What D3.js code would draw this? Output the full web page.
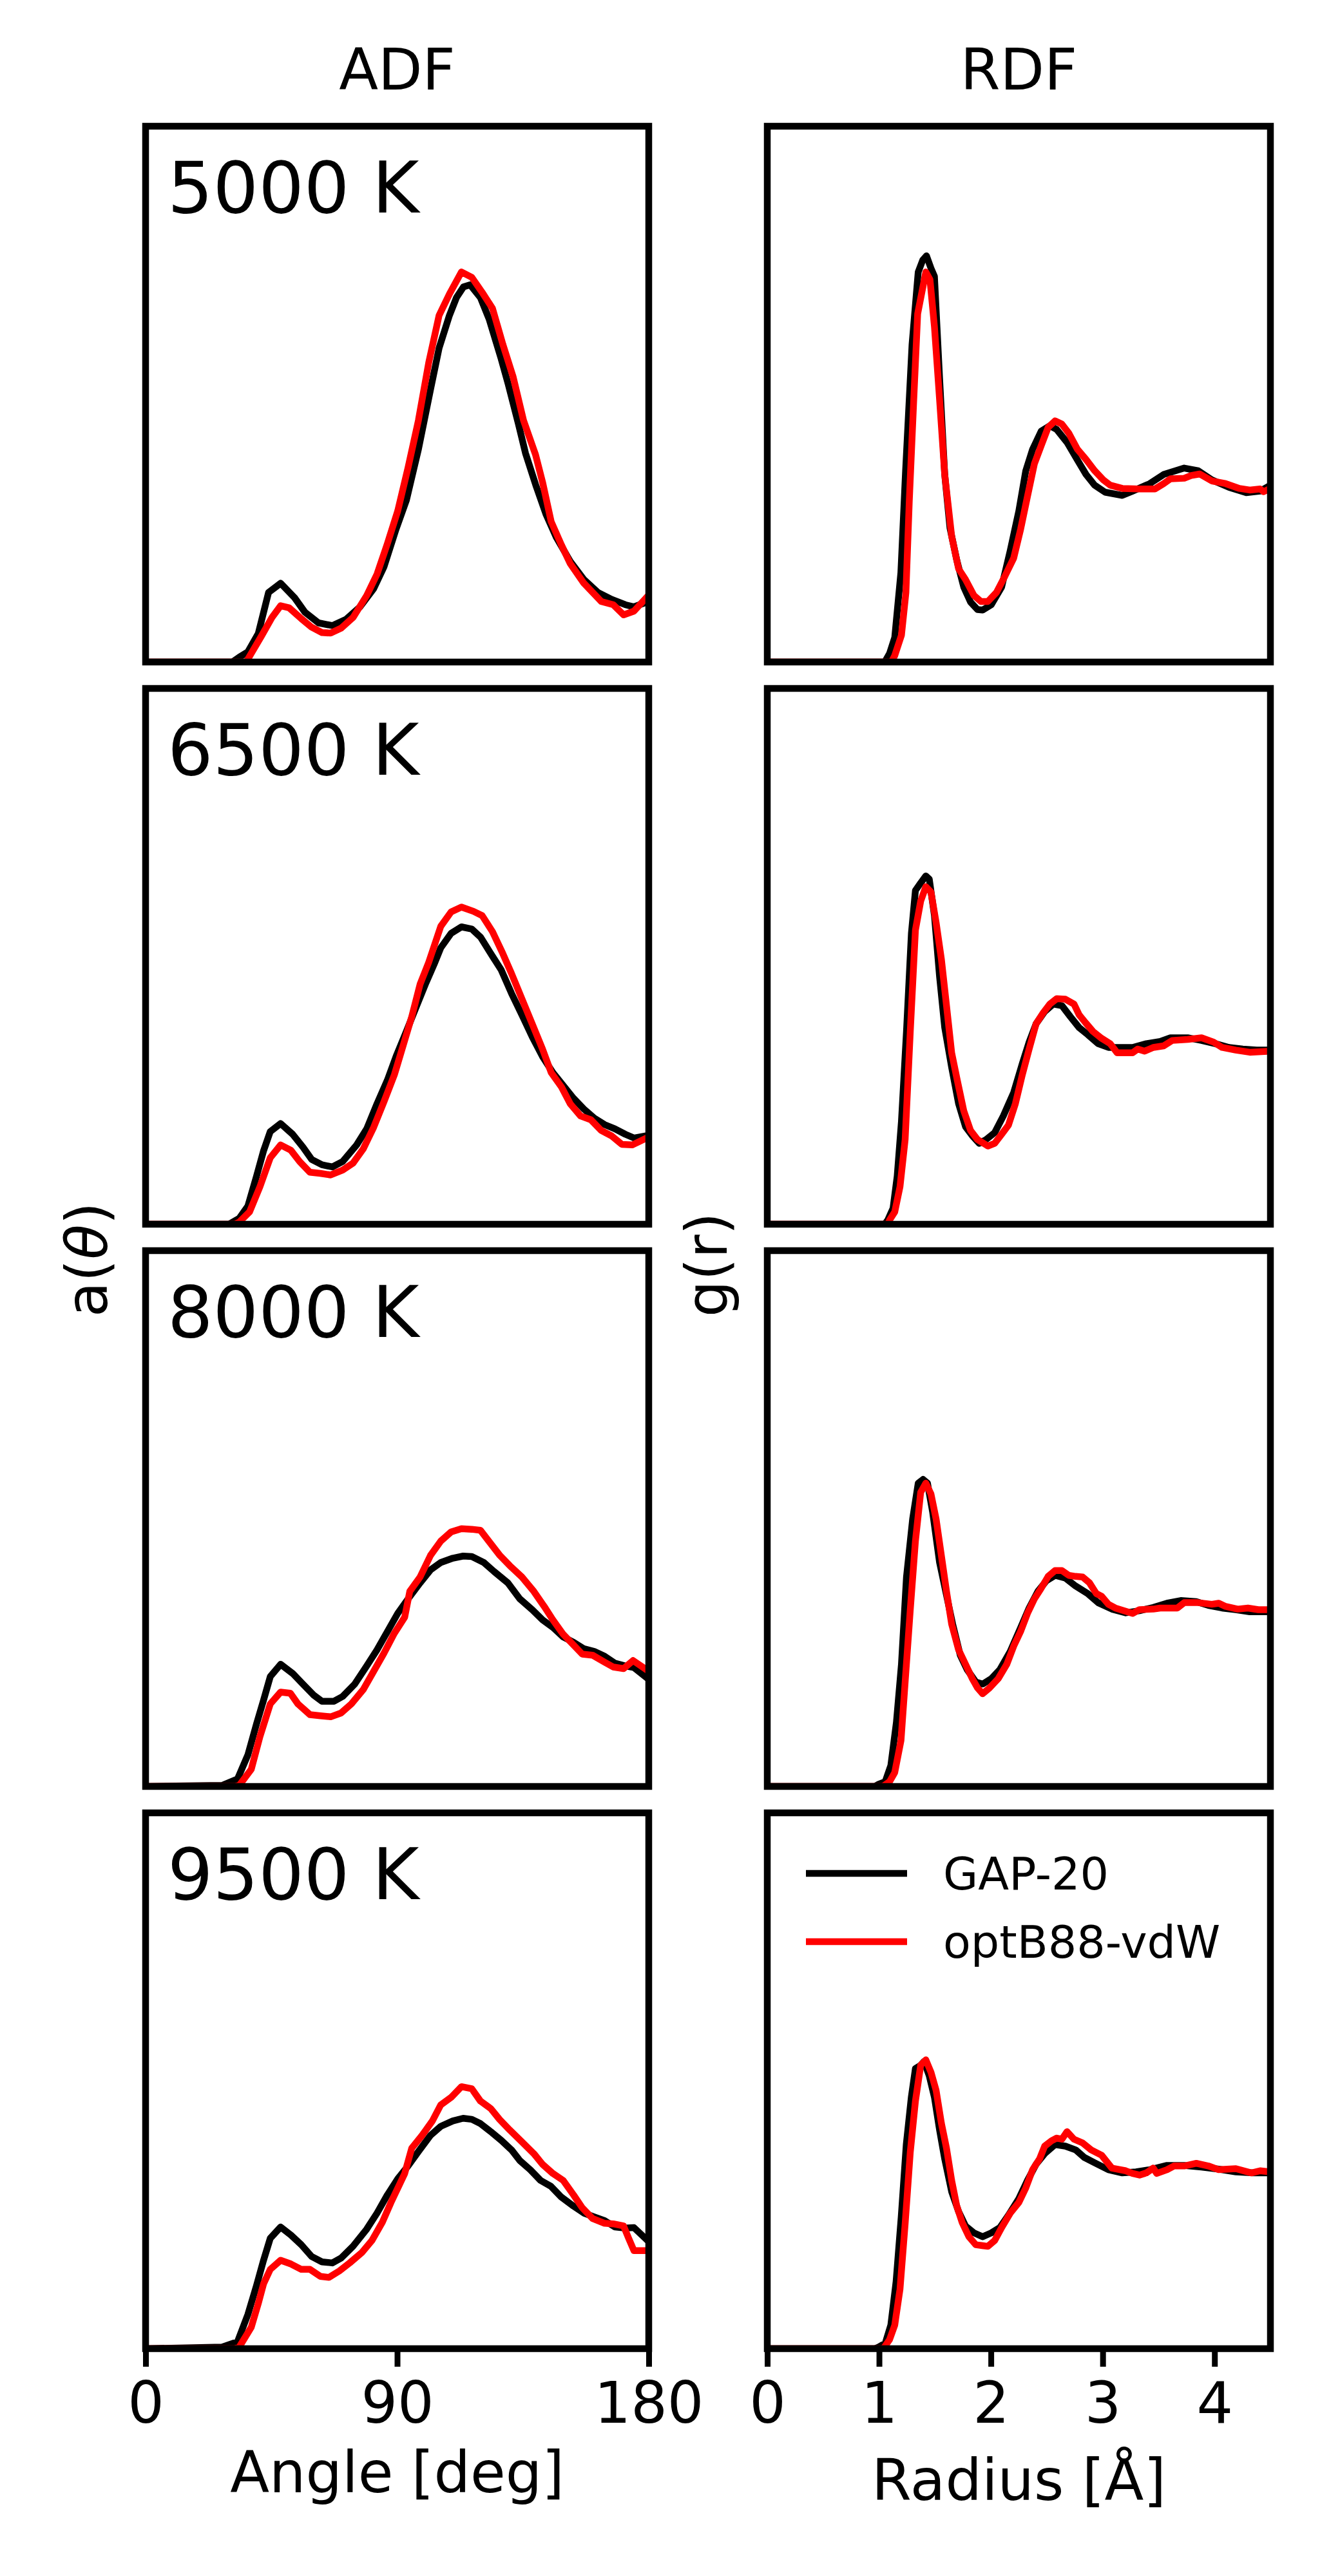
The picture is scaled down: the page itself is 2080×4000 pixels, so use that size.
<!DOCTYPE html>
<html>
<head>
<meta charset="utf-8">
<script src="https://cdn.jsdelivr.net/npm/d3@7"></script>
<style>
  body { margin: 0; background: #fff; }
  text { font-family: "DejaVu Sans", sans-serif; fill: #000; }
</style>
</head>
<body>
<div id="root"></div>
<script>
// labels and ticks
const temps = ["5000 K", "6500 K", "8000 K", "9500 K"]
const colTitles = ["ADF", "RDF"]
const adfTicks = [0, 90, 180]
const rdfTicks = [0, 1, 2, 3, 4]
const seriesNames = ["GAP-20", "optB88-vdW"]

// ADF curves, [angle (deg), a(theta) in panel units]
const adfGap5000 = [[0,0],[31,0],[33.5,0.009],[36.6,0.019],[40.3,0.053],[44,0.13],[48.3,0.147],[53.3,0.12],[57,0.093],[61.9,0.073],[66.8,0.068],[71.8,0.08],[76.7,0.103],[81.6,0.137],[85.3,0.178],[89.6,0.248],[93.3,0.302],[97.6,0.397],[101.9,0.508],[105,0.586],[108.7,0.647],[111.2,0.68],[113.7,0.7],[116.1,0.704],[119.8,0.68],[122.9,0.64],[127.2,0.566],[129.7,0.519],[133.4,0.444],[135.9,0.39],[139.6,0.33],[143.3,0.275],[147,0.232],[151.9,0.188],[156.8,0.154],[161.8,0.13],[166.7,0.117],[171.6,0.107],[174.7,0.103],[180,0.113]]
const adfOpt5000 = [[0,0],[36,0],[37.8,0.016],[41.5,0.049],[45.2,0.083],[48.3,0.105],[51.4,0.101],[55.7,0.081],[59.4,0.065],[63.1,0.055],[66.2,0.054],[69.9,0.063],[74.2,0.083],[79.1,0.124],[82.8,0.164],[86.5,0.221],[90.2,0.282],[93.9,0.363],[97.6,0.451],[101.3,0.559],[105,0.647],[108.7,0.687],[113,0.728],[116.7,0.718],[120.4,0.69],[124.1,0.66],[127.8,0.593],[131.5,0.532],[135.2,0.451],[139.5,0.387],[142,0.336],[145.1,0.262],[148.8,0.218],[151.9,0.184],[156.8,0.147],[163,0.113],[167.3,0.107],[171,0.088],[174.7,0.095],[180,0.125]]
const adfGap6500 = [[0,0],[29.8,0],[33.5,0.011],[36.6,0.034],[39.7,0.09],[42.2,0.137],[44.6,0.173],[48.3,0.188],[52.6,0.168],[56.3,0.144],[59.4,0.121],[63.1,0.111],[66.8,0.107],[70.5,0.117],[75.5,0.148],[79.1,0.178],[82.8,0.225],[86.5,0.269],[89.6,0.313],[93.3,0.36],[97,0.408],[100.1,0.448],[103.2,0.485],[105.6,0.516],[109.3,0.543],[113,0.555],[116.7,0.551],[119.8,0.536],[123.5,0.505],[127.2,0.475],[130.9,0.431],[134.6,0.391],[138.3,0.35],[142,0.313],[145.7,0.283],[149.4,0.259],[153.1,0.235],[156.8,0.215],[160.5,0.198],[164.2,0.186],[167.9,0.178],[171.6,0.168],[174.7,0.161],[180,0.166]]
const adfOpt6500 = [[0,0],[32,0],[33.5,0.004],[37.2,0.023],[40.9,0.07],[44.6,0.124],[48.3,0.148],[52,0.138],[55.1,0.117],[58.8,0.097],[62.5,0.095],[66.2,0.092],[70.5,0.101],[74.2,0.114],[77.9,0.141],[81.6,0.181],[85.3,0.229],[89,0.279],[92.1,0.333],[95.2,0.387],[98.2,0.448],[101.3,0.489],[105.6,0.556],[109.3,0.583],[113,0.592],[117.3,0.584],[120.4,0.576],[124.1,0.546],[127.8,0.505],[130.9,0.468],[134.6,0.421],[138.3,0.374],[142,0.327],[145.1,0.283],[148.8,0.256],[151.9,0.225],[155.6,0.202],[159.3,0.195],[163,0.175],[166.7,0.165],[170.4,0.149],[174.1,0.148],[180,0.163]]
const adfGap8000 = [[0,0],[27.4,0.002],[32.9,0.014],[36.6,0.059],[39.7,0.117],[42.2,0.161],[44.6,0.205],[48.3,0.228],[52.6,0.211],[56.3,0.191],[60,0.171],[63.1,0.159],[67.4,0.159],[70.5,0.168],[74.8,0.191],[79.1,0.225],[82.8,0.255],[86.5,0.289],[90.2,0.323],[93.9,0.35],[98.2,0.38],[101.9,0.404],[105.6,0.418],[109.9,0.426],[113.6,0.43],[116.7,0.429],[121,0.418],[124.7,0.401],[129.6,0.38],[133.9,0.35],[138.3,0.33],[142,0.311],[145.7,0.297],[149.4,0.279],[153.1,0.269],[156.8,0.257],[160.5,0.252],[164.2,0.243],[167.9,0.23],[171.6,0.225],[174.7,0.222],[180,0.2]]
const adfOpt8000 = [[0,0],[32,0],[33.5,0.002],[37.8,0.032],[40.9,0.093],[44.6,0.154],[48.3,0.176],[51.8,0.174],[54.5,0.154],[58.8,0.134],[62.5,0.132],[66.2,0.13],[69.9,0.137],[73.6,0.154],[77.9,0.181],[81.6,0.215],[85.3,0.249],[89,0.286],[92.7,0.316],[94.5,0.364],[98.2,0.391],[101.9,0.431],[105.6,0.458],[109.3,0.475],[113,0.481],[116.7,0.48],[119.8,0.478],[122.9,0.457],[126.6,0.432],[130.3,0.412],[134.6,0.391],[138.9,0.364],[142.6,0.336],[145.7,0.311],[149.4,0.284],[153.1,0.264],[156.2,0.247],[159.9,0.245],[164.2,0.232],[167.3,0.223],[171,0.22],[174.4,0.235],[180,0.215]]
const adfGap9500 = [[0,0],[27.4,0.003],[32.9,0.013],[36.6,0.064],[39.7,0.118],[42.2,0.165],[44.6,0.206],[48.3,0.227],[52,0.212],[55.7,0.194],[59.4,0.172],[63.1,0.162],[66.8,0.16],[69.9,0.169],[74.2,0.191],[79.1,0.223],[82.8,0.253],[86.5,0.287],[90.2,0.317],[93.9,0.341],[97.6,0.368],[101.9,0.398],[105.6,0.415],[109.9,0.425],[113.6,0.43],[116.7,0.428],[119.8,0.42],[123.5,0.405],[127.2,0.389],[130.9,0.371],[133.9,0.351],[137.6,0.334],[141.3,0.314],[145,0.303],[148.7,0.283],[153.1,0.266],[156.8,0.253],[160.5,0.246],[164.2,0.239],[167.9,0.227],[171.6,0.225],[174.7,0.226],[180,0.2]]
const adfOpt9500 = [[0,0],[32,0],[33.5,0.003],[37.8,0.04],[40.3,0.084],[42.2,0.121],[44.6,0.148],[48.3,0.165],[52,0.158],[55.7,0.148],[58.8,0.148],[62.5,0.135],[65.6,0.133],[69.3,0.145],[73,0.16],[77.3,0.179],[81,0.202],[84.7,0.236],[87.8,0.273],[90.9,0.307],[92.7,0.327],[95.2,0.374],[98.9,0.398],[102.6,0.425],[105.6,0.455],[109.3,0.469],[113,0.489],[116.7,0.485],[119.8,0.462],[123.5,0.448],[126.6,0.428],[130.3,0.408],[134.6,0.386],[138.9,0.364],[142,0.344],[145.7,0.327],[149.4,0.314],[153.1,0.287],[156.2,0.263],[159.9,0.243],[164.2,0.234],[167.3,0.233],[171,0.229],[172.8,0.206],[174.7,0.183],[180,0.183]]

// RDF curves, [radius (A), g(r) in panel units]
const rdfGap5000 = [[0,0],[1.05,0],[1.094,0.016],[1.14,0.046],[1.195,0.167],[1.237,0.357],[1.295,0.593],[1.35,0.728],[1.39,0.75],[1.424,0.758],[1.464,0.735],[1.495,0.72],[1.541,0.53],[1.587,0.35],[1.634,0.25],[1.695,0.19],[1.757,0.14],[1.818,0.112],[1.88,0.098],[1.926,0.097],[2.003,0.107],[2.096,0.14],[2.173,0.208],[2.25,0.282],[2.312,0.357],[2.373,0.397],[2.45,0.431],[2.527,0.441],[2.589,0.434],[2.681,0.41],[2.774,0.377],[2.851,0.35],[2.928,0.33],[3.021,0.317],[3.175,0.311],[3.267,0.319],[3.421,0.333],[3.545,0.35],[3.729,0.362],[3.853,0.357],[3.976,0.34],[4.13,0.326],[4.284,0.316],[4.408,0.319],[4.5,0.33]]
const rdfOpt5000 = [[0,0],[1.11,0],[1.14,0.012],[1.2,0.05],[1.24,0.13],[1.27,0.3],[1.31,0.49],[1.345,0.65],[1.418,0.728],[1.455,0.714],[1.495,0.626],[1.541,0.49],[1.587,0.35],[1.649,0.235],[1.711,0.174],[1.773,0.154],[1.849,0.124],[1.911,0.113],[1.973,0.113],[2.05,0.13],[2.127,0.161],[2.204,0.194],[2.266,0.248],[2.327,0.309],[2.389,0.37],[2.45,0.404],[2.512,0.438],[2.574,0.45],[2.635,0.444],[2.697,0.427],[2.774,0.397],[2.851,0.378],[2.928,0.357],[3.005,0.34],[3.067,0.33],[3.175,0.324],[3.329,0.323],[3.467,0.323],[3.545,0.333],[3.606,0.342],[3.729,0.343],[3.791,0.348],[3.868,0.351],[3.976,0.338],[4.099,0.333],[4.222,0.324],[4.315,0.321],[4.408,0.323],[4.438,0.318],[4.5,0.324]]
const rdfGap6500 = [[0,0],[1.05,0],[1.078,0.008],[1.125,0.03],[1.162,0.09],[1.2,0.192],[1.245,0.36],[1.289,0.543],[1.325,0.623],[1.372,0.637],[1.418,0.65],[1.449,0.644],[1.495,0.576],[1.541,0.462],[1.587,0.367],[1.649,0.293],[1.711,0.225],[1.773,0.182],[1.834,0.165],[1.896,0.151],[1.957,0.158],[2.034,0.171],[2.111,0.202],[2.204,0.246],[2.281,0.3],[2.342,0.34],[2.404,0.374],[2.481,0.397],[2.558,0.411],[2.635,0.408],[2.712,0.387],[2.789,0.367],[2.866,0.354],[2.959,0.337],[3.051,0.33],[3.144,0.33],[3.267,0.33],[3.39,0.337],[3.514,0.341],[3.606,0.348],[3.76,0.348],[3.884,0.343],[4.007,0.337],[4.13,0.33],[4.253,0.327],[4.377,0.325],[4.5,0.325]]
const rdfOpt6500 = [[0,0],[1.08,0],[1.094,0.008],[1.14,0.023],[1.187,0.07],[1.233,0.158],[1.279,0.36],[1.325,0.549],[1.372,0.603],[1.418,0.63],[1.464,0.62],[1.51,0.563],[1.557,0.495],[1.603,0.408],[1.649,0.32],[1.695,0.273],[1.757,0.212],[1.818,0.175],[1.88,0.158],[1.973,0.146],[2.034,0.151],[2.096,0.168],[2.157,0.185],[2.219,0.225],[2.281,0.279],[2.342,0.327],[2.404,0.374],[2.466,0.394],[2.527,0.411],[2.589,0.421],[2.666,0.42],[2.743,0.411],[2.789,0.391],[2.851,0.375],[2.912,0.36],[2.99,0.347],[3.067,0.337],[3.129,0.32],[3.267,0.32],[3.313,0.327],[3.375,0.323],[3.452,0.33],[3.545,0.333],[3.622,0.343],[3.76,0.345],[3.884,0.348],[3.991,0.34],[4.068,0.33],[4.191,0.325],[4.315,0.321],[4.5,0.323]]
const rdfGap8000 = [[0,0],[0.96,0],[0.995,0.004],[1.055,0.009],[1.105,0.039],[1.155,0.12],[1.2,0.228],[1.245,0.391],[1.3,0.499],[1.35,0.566],[1.393,0.573],[1.433,0.566],[1.479,0.512],[1.541,0.418],[1.603,0.357],[1.658,0.303],[1.726,0.245],[1.788,0.218],[1.865,0.195],[1.926,0.191],[2.003,0.201],[2.08,0.218],[2.173,0.252],[2.265,0.296],[2.342,0.333],[2.42,0.364],[2.497,0.384],[2.574,0.394],[2.666,0.389],[2.758,0.374],[2.866,0.36],[2.959,0.343],[3.082,0.331],[3.206,0.324],[3.329,0.328],[3.452,0.334],[3.575,0.342],[3.698,0.347],[3.837,0.345],[3.945,0.338],[4.068,0.333],[4.191,0.33],[4.315,0.326],[4.5,0.326]]
const rdfOpt8000 = [[0,0],[1.03,0],[1.048,0.002],[1.094,0.009],[1.14,0.026],[1.196,0.086],[1.233,0.195],[1.279,0.33],[1.325,0.458],[1.372,0.549],[1.418,0.566],[1.464,0.546],[1.51,0.499],[1.557,0.431],[1.603,0.364],[1.649,0.303],[1.711,0.255],[1.773,0.228],[1.834,0.201],[1.88,0.184],[1.926,0.173],[1.988,0.184],[2.065,0.201],[2.142,0.228],[2.204,0.262],[2.265,0.289],[2.327,0.323],[2.389,0.35],[2.45,0.37],[2.512,0.392],[2.574,0.403],[2.635,0.403],[2.697,0.394],[2.758,0.392],[2.82,0.391],[2.882,0.38],[2.943,0.36],[2.99,0.355],[3.051,0.34],[3.113,0.333],[3.267,0.323],[3.329,0.33],[3.452,0.331],[3.514,0.333],[3.668,0.333],[3.729,0.343],[3.853,0.343],[3.976,0.34],[4.038,0.342],[4.099,0.336],[4.207,0.331],[4.299,0.333],[4.392,0.33],[4.5,0.33]]
const rdfGap9500 = [[0,0],[0.96,0],[0.995,0.003],[1.055,0.01],[1.105,0.044],[1.152,0.125],[1.198,0.246],[1.243,0.381],[1.288,0.469],[1.325,0.523],[1.372,0.529],[1.402,0.536],[1.449,0.509],[1.495,0.469],[1.541,0.408],[1.587,0.354],[1.649,0.293],[1.711,0.256],[1.773,0.229],[1.849,0.216],[1.926,0.209],[2.003,0.216],[2.08,0.226],[2.157,0.249],[2.25,0.28],[2.327,0.314],[2.404,0.344],[2.481,0.364],[2.574,0.381],[2.666,0.378],[2.758,0.371],[2.835,0.357],[2.928,0.347],[3.051,0.334],[3.175,0.328],[3.298,0.33],[3.421,0.334],[3.575,0.342],[3.729,0.342],[3.884,0.339],[4.038,0.335],[4.191,0.33],[4.346,0.328],[4.5,0.328]]
const rdfOpt9500 = [[0,0],[1.03,0],[1.048,0.003],[1.094,0.017],[1.14,0.044],[1.187,0.111],[1.233,0.233],[1.279,0.367],[1.325,0.462],[1.372,0.529],[1.418,0.539],[1.464,0.516],[1.51,0.482],[1.557,0.421],[1.603,0.374],[1.649,0.314],[1.695,0.266],[1.742,0.236],[1.803,0.209],[1.865,0.194],[1.973,0.191],[2.034,0.202],[2.096,0.226],[2.173,0.253],[2.25,0.273],[2.312,0.3],[2.373,0.334],[2.435,0.354],[2.481,0.378],[2.543,0.388],[2.589,0.393],[2.635,0.391],[2.681,0.405],[2.743,0.391],[2.82,0.384],[2.897,0.371],[2.99,0.361],[3.082,0.337],[3.206,0.332],[3.267,0.327],[3.329,0.324],[3.39,0.328],[3.452,0.337],[3.483,0.327],[3.575,0.334],[3.637,0.341],[3.729,0.341],[3.837,0.346],[3.945,0.341],[4.038,0.334],[4.191,0.336],[4.33,0.328],[4.408,0.332],[4.5,0.33]]

const adfGap = [adfGap5000, adfGap6500, adfGap8000, adfGap9500]
const adfOpt = [adfOpt5000, adfOpt6500, adfOpt8000, adfOpt9500]
const rdfGap = [rdfGap5000, rdfGap6500, rdfGap8000, rdfGap9500]
const rdfOpt = [rdfOpt5000, rdfOpt6500, rdfOpt8000, rdfOpt9500]

// figure layout (pixels)
const W = 2080, H = 4000
const colLeft = [226, 1191]
const axW = 781, axH = 832
const rowTop = [196, 1069, 1942, 2815]
const lw = 10.5
const fontSize = 89

const svg = d3.select("#root").append("svg")
    .attr("width", W).attr("height", H)
    .attr("viewBox", `0 0 ${W} ${H}`)
svg.append("rect").attr("width", W).attr("height", H).attr("fill", "#fff")

function drawPanel(col, row, gap, opt) {
    const x0 = colLeft[col], y0 = rowTop[row]
    const x = d3.scaleLinear().domain(col === 0 ? [0, 180] : [0, 4.5]).range([x0, x0 + axW])
    const y = d3.scaleLinear().domain([0, 1]).range([y0 + axH, y0])
    const id = `clip-${col}-${row}`
    svg.append("clipPath").attr("id", id)
        .append("rect").attr("x", x0).attr("y", y0).attr("width", axW).attr("height", axH)

    const line = d3.line().x(d => x(d[0])).y(d => y(d[1]))
    const g = svg.append("g").attr("clip-path", `url(#${id})`)
    g.append("path").datum(gap).attr("d", line)
        .attr("fill", "none").attr("stroke", "#000").attr("stroke-width", lw)
        .attr("stroke-linejoin", "round")
    g.append("path").datum(opt).attr("d", line)
        .attr("fill", "none").attr("stroke", "#ff0000").attr("stroke-width", lw)
        .attr("stroke-linejoin", "round")

    // ticks only on the bottom row
    if (row === rowTop.length - 1) {
        const axis = d3.axisBottom(x)
            .tickValues(col === 0 ? adfTicks : rdfTicks)
            .tickFormat(d3.format("d"))
            .tickSize(28).tickPadding(24)
        const ax = svg.append("g").attr("transform", `translate(0,${y0 + axH})`).call(axis)
        ax.select(".domain").remove()
        ax.selectAll(".tick line").attr("stroke", "#000").attr("stroke-width", 9)
        ax.selectAll(".tick text").attr("font-size", fontSize)
            .attr("font-family", "DejaVu Sans").attr("fill", "#000")
    }

    // frame on top of the curves
    svg.append("rect").attr("x", x0).attr("y", y0).attr("width", axW).attr("height", axH)
        .attr("fill", "none").attr("stroke", "#000").attr("stroke-width", lw)

    if (col === 0) {
        svg.append("text").attr("x", x0 + 34).attr("y", y0 + 134)
            .attr("font-size", 111).text(temps[row])
    }
}

for (let r = 0; r < temps.length; r++) {
    drawPanel(0, r, adfGap[r], adfOpt[r])
    drawPanel(1, r, rdfGap[r], rdfOpt[r])
}

// column titles
colTitles.forEach((t, i) => {
    svg.append("text").attr("x", colLeft[i] + axW / 2).attr("y", 139)
        .attr("text-anchor", "middle").attr("font-size", fontSize).text(t)
})

// y labels
const yl1 = svg.append("text").attr("transform", "translate(166,2045) rotate(-90)")
    .attr("font-size", fontSize)
yl1.append("tspan").text("a(")
yl1.append("tspan").attr("font-style", "italic").text("θ")
yl1.append("tspan").text(")")
svg.append("text").attr("transform", "translate(1128,2045) rotate(-90)")
    .attr("font-size", fontSize).text("g(r)")

// x labels
svg.append("text").attr("x", colLeft[0] + axW / 2).attr("y", 3870)
    .attr("text-anchor", "middle").attr("font-size", fontSize).text("Angle [deg]")
svg.append("text").attr("x", colLeft[1] + axW / 2).attr("y", 3882)
    .attr("text-anchor", "middle").attr("font-size", fontSize).text("Radius [Å]")

// legend in the bottom right panel
const legY = [2909, 3015]
const legColors = ["#000", "#ff0000"]
seriesNames.forEach((name, i) => {
    svg.append("line").attr("x1", 1251).attr("x2", 1408).attr("y1", legY[i]).attr("y2", legY[i])
        .attr("stroke", legColors[i]).attr("stroke-width", lw)
    svg.append("text").attr("x", 1464).attr("y", legY[i] + 25)
        .attr("font-size", 70).text(name)
})
</script>
</body>
</html>
